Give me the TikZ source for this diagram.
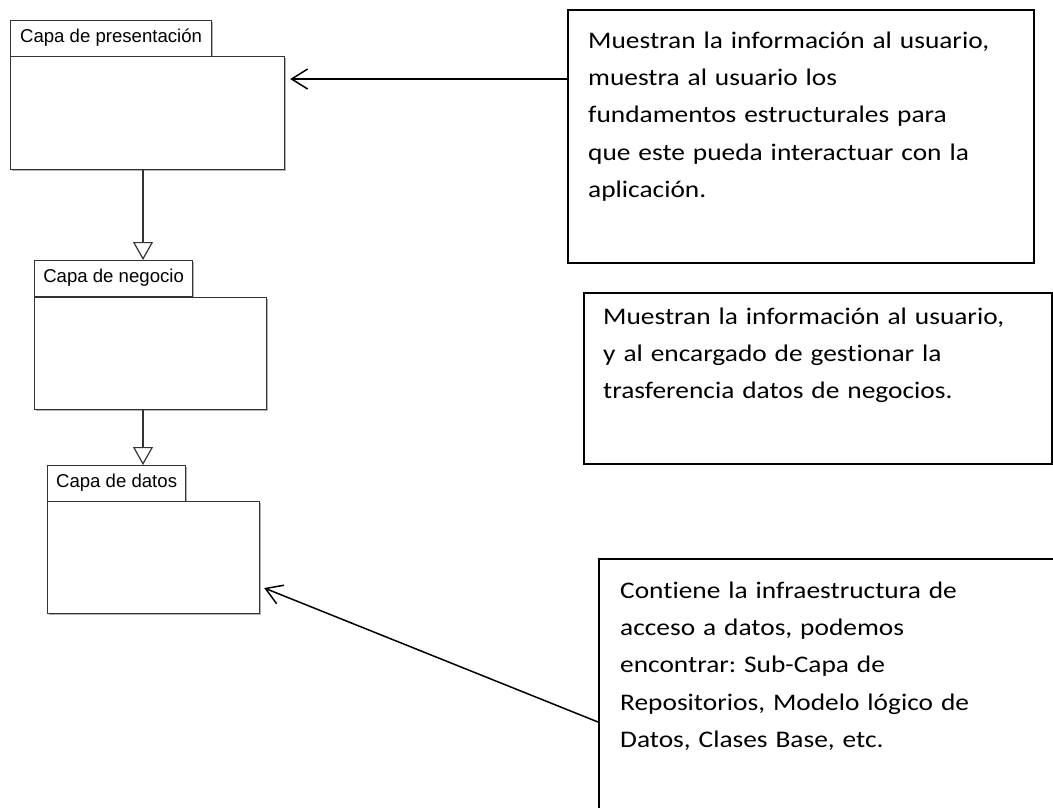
\documentclass[tikz,border=0pt]{standalone}
\usepackage{fontspec}
\setmainfont{Carlito}[Ligatures={NoCommon}, FakeStretch=1.15]
\newfontfamily\umlfont{Liberation Sans}
\usetikzlibrary{arrows.meta,shadows}
\frenchspacing
\begin{document}
\begin{tikzpicture}[x=1pt,y=-1pt,
  pkgline/.style={draw=black!80, line width=1.2pt},
  pkgshadow/.style={drop shadow={shadow xshift=1.6pt, shadow yshift=-1.6pt, fill=black!30, opacity=1}},
  pkgtab/.style={pkgline, pkgshadow, fill=white, anchor=north west, inner xsep=0pt, inner ysep=0pt,
    text height=22pt, text depth=14pt, font=\umlfont\fontsize{18.6}{20}\selectfont},
  pkgbody/.style={pkgline, pkgshadow, fill=white, anchor=north west, inner sep=0pt},
  notebox/.style={draw=black, line width=1.6pt, anchor=north west, inner sep=0pt},
  notetext/.style={anchor=north west, inner sep=0pt, align=left, text width=480pt,
    font=\frenchspacing\fontsize{23.8}{37.3}\selectfont},
  gen/.style={draw=black!80, line width=1.2pt, -{Triangle[open, length=18pt, width=20pt]}},
  dep/.style={draw=black, line width=1.5pt, -{Straight Barb[length=16pt, width=20pt]}}
]
\useasboundingbox (0,0) rectangle (1053,807);
\clip (0,0) rectangle (1053,807);
\fill[white] (0,0) rectangle (1053,807);

% packages
\node[pkgtab, minimum width=201pt] (p1tab) at (10,20) {Capa de presentación};
\node[pkgbody, minimum width=274pt, minimum height=113pt] (p1) at (10,56) {};
\node[pkgtab, minimum width=158pt] (p2tab) at (34,260) {Capa de negocio};
\node[pkgbody, minimum width=232pt, minimum height=112pt] (p2) at (34,297) {};
\node[pkgtab, minimum width=138pt] (p3tab) at (47,465) {Capa de datos};
\node[pkgbody, minimum width=212pt, minimum height=112pt] (p3) at (47,501) {};

% notes
\node[notebox, minimum width=466pt, minimum height=253pt] (b1) at (567,9) {};
\node[notetext] (t1) at (588,28) {\rule{0pt}{20pt}Muestran la información al usuario,\\
muestra al usuario los\\
fundamentos estructurales para\\
que este pueda interactuar con la\\
aplicación.};

\node[notebox, minimum width=468pt, minimum height=171pt] (b2) at (583,292) {};
\node[notetext] (t2) at (603,304) {\rule{0pt}{20pt}Muestran la información al usuario,\\
y al encargado de gestionar la\\
trasferencia datos de negocios.};

\node[notebox, minimum width=520pt, minimum height=300pt] (b3) at (598,558) {};
\node[notetext] (t3) at (620,578) {\rule{0pt}{20pt}Contiene la infraestructura de\\
acceso a datos, podemos\\
encontrar: Sub-Capa de\\
Repositorios, Modelo lógico de\\
Datos, Clases Base, etc.};

% connectors
\draw[gen] ([xshift=133pt]p1.south west) -- ([xshift=109pt]p2tab.north west);
\draw[gen] ([xshift=109pt]p2.south west) -- ([xshift=96pt]p3tab.north west);
\draw[dep] ([yshift=-70pt]b1.north west) -- ([xshift=5pt,yshift=-23pt]p1.north east);
\draw[dep] ([yshift=-164pt]b3.north west) -- ([xshift=4pt,yshift=-87pt]p3.north east);
\end{tikzpicture}
\end{document}
